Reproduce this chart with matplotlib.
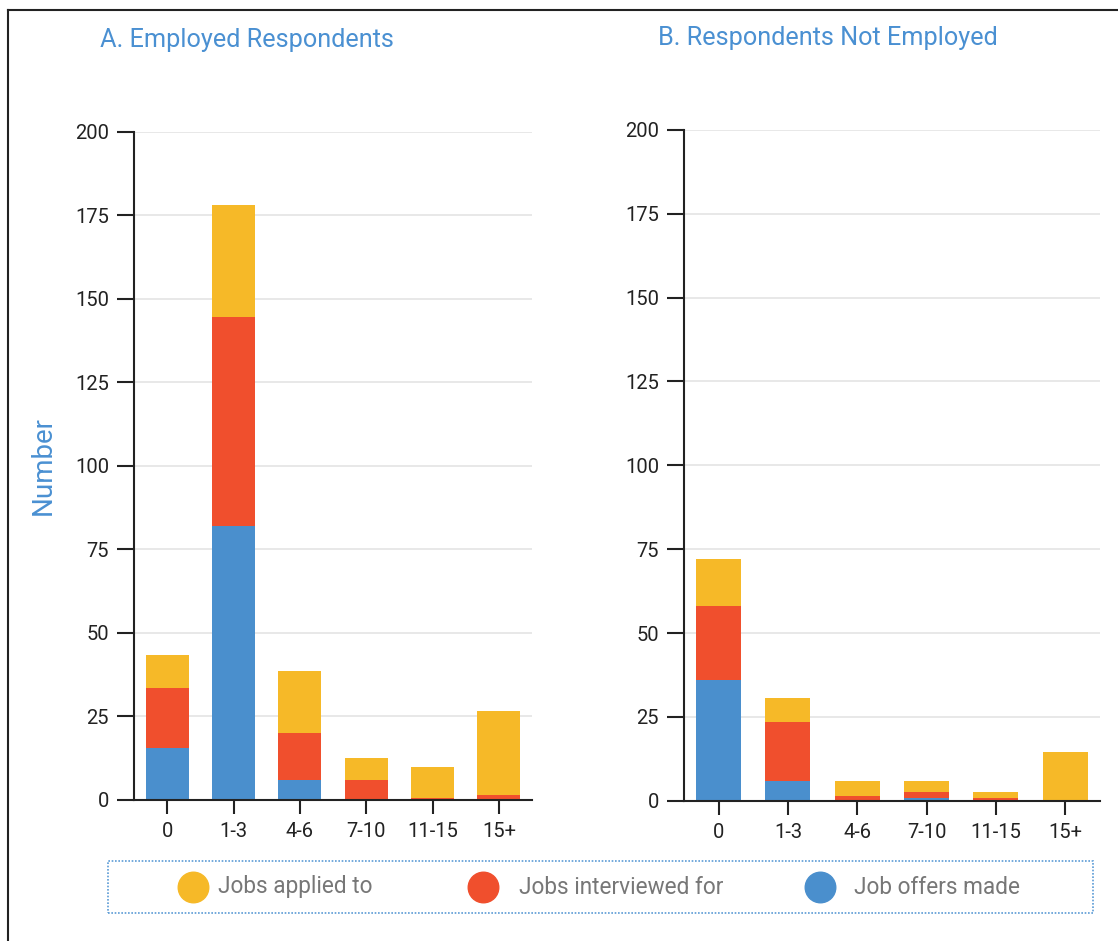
"""
Stacked bars of job search outcomes for employed vs. not employed respondents.
"""

import matplotlib.pyplot as plt
from matplotlib.lines import Line2D
from matplotlib.patches import Rectangle

plt.rcParams["font.family"] = ["Roboto", "DejaVu Sans"]

CATEGORIES = ["0", "1-3", "4-6", "7-10", "11-15", "15+"]

# Panel A: employed respondents
EMP_OFFERS = [15.5, 82, 6, 0, 0, 0]
EMP_INTERVIEWED = [18, 62.5, 14, 6, 0.6, 1.6]
EMP_APPLIED = [10, 33.5, 18.5, 6.6, 9.2, 25]

# Panel B: respondents not employed
UNEMP_OFFERS = [36, 6, 0, 0.8, 0.3, 0]
UNEMP_INTERVIEWED = [22, 17.5, 1.5, 1.7, 0.6, 0]
UNEMP_APPLIED = [14, 7, 4.5, 3.4, 1.7, 14.5]

SERIES_LABELS = ["Jobs applied to", "Jobs interviewed for", "Job offers made"]

YELLOW = "#F6B928"
RED = "#F04F2D"
BLUE = "#4A8FCD"
TITLE_BLUE = "#4A90D2"


def draw_panel(ax, offers, interviewed, applied, title, title_x):
    x = range(len(CATEGORIES))
    width = 0.65
    bottom2 = [o + i for o, i in zip(offers, interviewed)]
    ax.bar(x, offers, width=width, color=BLUE, zorder=3)
    ax.bar(x, interviewed, width=width, bottom=offers, color=RED, zorder=3)
    ax.bar(x, applied, width=width, bottom=bottom2, color=YELLOW, zorder=3)

    ax.set_ylim(0, 200)
    ax.set_yticks(range(0, 201, 25))
    ax.set_xticks(list(x))
    ax.set_xticklabels(CATEGORIES)
    ax.set_xlim(-0.5, len(CATEGORIES) - 0.5)

    ax.grid(axis="y", color="#e4e4e4", linewidth=1.2, zorder=0)
    ax.set_axisbelow(True)
    for side in ["top", "right"]:
        ax.spines[side].set_visible(False)
    for side in ["left", "bottom"]:
        ax.spines[side].set_color("#222222")
        ax.spines[side].set_linewidth(1.5)
        ax.spines[side].set_zorder(4)
    ax.tick_params(axis="both", direction="out", length=10, width=1.5,
                   color="#222222", labelsize=14.5, labelcolor="#222222", pad=6)
    ax.tick_params(axis="y", length=12)

    ax.set_title(title, loc="left", x=title_x, y=1.114, fontsize=18.2,
                 color=TITLE_BLUE)


def main():
    fig = plt.figure(figsize=(11.18, 9.41), dpi=100)

    ax_a = fig.add_axes([0.1199, 0.150, 0.356, 0.710])
    ax_b = fig.add_axes([0.6118, 0.149, 0.372, 0.713])

    draw_panel(ax_a, EMP_OFFERS, EMP_INTERVIEWED, EMP_APPLIED,
               "A. Employed Respondents", -0.085)
    draw_panel(ax_b, UNEMP_OFFERS, UNEMP_INTERVIEWED, UNEMP_APPLIED,
               "B. Respondents Not Employed", -0.062)

    ax_a.set_ylabel("Number", fontsize=20, color=TITLE_BLUE, labelpad=13)

    # figure frame (left and top edges visible in the original)
    fig.add_artist(Line2D([8 / 1118, 8 / 1118], [0, 1 - 10 / 941],
                          transform=fig.transFigure, color="#222222", lw=1.5))
    fig.add_artist(Line2D([8 / 1118, 1], [1 - 10 / 941, 1 - 10 / 941],
                          transform=fig.transFigure, color="#222222", lw=1.5))

    # legend box
    fig.add_artist(Rectangle((108 / 1118, 1 - 913 / 941), 985 / 1118, 52 / 941,
                             transform=fig.transFigure, fill=False,
                             edgecolor="#5b9bd5", linestyle=(0, (1, 1)),
                             linewidth=1.2))
    ly = 1 - 887 / 941
    for label, color, mx, tx in zip(SERIES_LABELS, [YELLOW, RED, BLUE],
                                    [193, 483, 820], [218, 519, 854]):
        fig.add_artist(Line2D([mx / 1118], [ly], marker="o", markersize=22,
                              color=color, transform=fig.transFigure))
        fig.text(tx / 1118, ly, label, fontsize=16.3, color="#777777",
                 va="center", ha="left")

    fig.savefig("out.png", dpi=100)


if __name__ == "__main__":
    main()
